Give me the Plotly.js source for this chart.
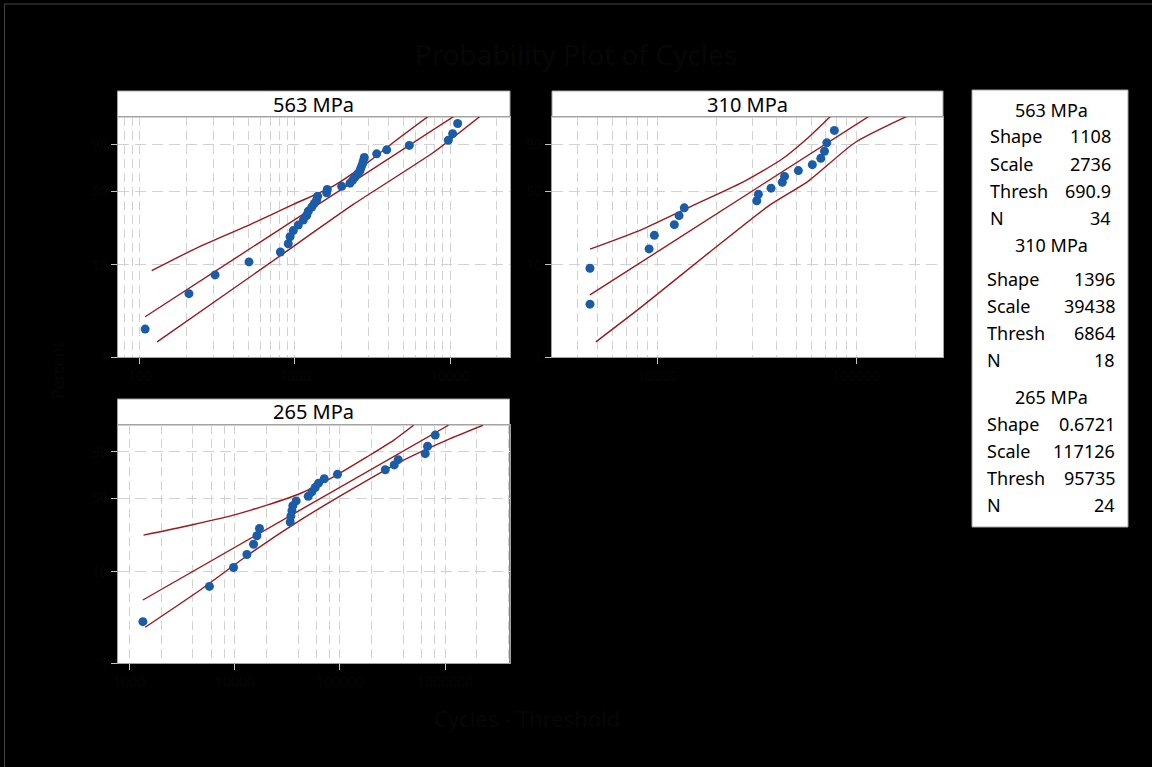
<!DOCTYPE html>
<html><head><meta charset="utf-8">
<script src="https://cdn.plot.ly/plotly-3.0.1.min.js"></script>
<style>html,body{margin:0;padding:0;background:#000;} #chart{width:1152px;height:767px;}</style>
</head><body><div id="chart"></div>
<script>
// ---------- data (x = time - threshold, y = percent) ----------
const groups = ['563 MPa', '310 MPa', '265 MPa'];

const p1_x = [108, 207, 305, 505, 805, 905, 929, 975, 1050, 1132, 1189, 1218, 1282, 1333, 1380, 1400, 1600, 1615, 2000, 2265, 2355, 2438, 2537, 2625, 2667, 2718, 2760, 2800, 3365, 3905, 5460, 9750, 10400, 11200];
const p1_pct = [2.03, 4.94, 7.85, 10.76, 13.66, 16.57, 19.48, 22.38, 25.29, 28.20, 31.10, 34.01, 36.92, 39.83, 42.73, 45.64, 48.55, 51.45, 54.36, 57.27, 60.17, 63.08, 65.99, 68.90, 71.80, 74.71, 77.62, 80.52, 83.43, 86.34, 89.24, 92.15, 95.06, 97.97];

const p2_x = [4600, 4600, 9120, 9690, 12210, 12900, 13700, 31700, 32300, 37400, 42600, 43700, 51300, 60300, 66500, 69400, 71300, 77800];
const p2_pct = [3.80, 9.24, 14.67, 20.11, 25.54, 30.98, 36.41, 41.85, 47.28, 52.72, 58.15, 63.59, 69.02, 74.46, 79.89, 85.33, 90.76, 96.20];

const p3_x = [1341, 5750, 9750, 13060, 15100, 16260, 17200, 33700, 34200, 35000, 35700, 38400, 50000, 54200, 58300, 62600, 71000, 94800, 270000, 328000, 358000, 647000, 681000, 805000];
const p3_pct = [2.87, 6.97, 11.07, 15.16, 19.26, 23.36, 27.46, 31.56, 35.66, 39.75, 43.85, 47.95, 52.05, 56.15, 60.25, 64.34, 68.44, 72.54, 76.64, 80.74, 84.84, 88.93, 93.03, 97.13];

// fitted line and 95% confidence bounds
const p1_up_x = [119, 244, 513, 975, 1766, 2760, 4305, 7244];
const p1_up_pct = [8.7, 15.6, 25.6, 39.0, 54.6, 73.3, 90.96, 99.08];
const p1_fit_x = [108, 10760];
const p1_fit_pct = [2.77, 99.15];
const p1_lo_x = [129, 690, 2377, 7800, 15630];
const p1_lo_pct = [1.47, 10.5, 39.0, 84.4, 99.08];

const p2_up_x = [4600, 8380, 14920, 26660, 42350, 57600, 75500];
const p2_up_pct = [14.6, 22.9, 37.7, 57.7, 79.1, 93.5, 99.2];
const p2_fit_x = [4600, 117500];
const p2_fit_pct = [4.78, 99.15];
const p2_lo_x = [4930, 8380, 18120, 36230, 57600, 98900, 183200];
const p2_lo_pct = [1.47, 3.57, 13.3, 37.7, 59.2, 90.96, 99.15];

const p3_up_x = [1358, 3260, 9750, 20230, 41980, 86900, 180600, 323600, 501000];
const p3_up_pct = [23.7, 28.5, 36.4, 44.3, 54.6, 70.2, 86.8, 95.5, 98.97];
const p3_fit_x = [1340, 1076000];
const p3_fit_pct = [4.96, 98.97];
const p3_lo_x = [1409, 4700, 14030, 41980, 125300, 374000, 1119000, 2286000];
const p3_lo_pct = [2.49, 6.37, 15.5, 32.8, 57.7, 83.2, 96.1, 98.97];

// tick labels
const yTickPct = [1, 10, 50, 90];
const yTickText = ['1', '10', '50', '90'];
const x1Ticks = [100, 1000, 10000];
const x2Ticks = [10000, 100000];
const x3Ticks = [1000, 10000, 100000, 1000000];
const x1Grid = [80, 90, 200, 300, 400, 500, 600, 700, 800, 900, 2000, 3000, 4000, 5000, 6000, 7000, 8000, 9000, 20000];
const x2Grid = [4000, 5000, 6000, 7000, 8000, 9000, 20000, 30000, 40000, 50000, 60000, 70000, 80000, 90000, 200000];
const x3Grid = [2000, 4000, 6000, 8000, 20000, 40000, 60000, 80000, 200000, 400000, 600000, 800000, 2000000, 4000000];

// summary table
const statNames = ['Shape', 'Scale', 'Thresh', 'N'];
const statVals = [
  ['1108', '2736', '690.9', '34'],
  ['1396', '39438', '6864', '18'],
  ['0.6721', '117126', '95735', '24']
];

const titleText = 'Probability Plot of Cycles';
const xTitle = 'Cycles - Threshold';
const yTitle = 'Percent';

// ---------- helpers ----------
const W = p => Math.log(-Math.log(1 - p / 100));   // Weibull probability scale
const WW = arr => arr.map(W);
const fx = px => px / 1152;
const fy = py => 1 - py / 767;

const FONT = 'Noto Sans, Open Sans, sans-serif';
const FAINT = '#070707';
const BLUE = '#1a5ca8';
const RED = '#951b1e';
const GRID = '#d2d2d2';
const FRAME = '#a3a3a3';

function pts(x, p, xa, ya) {
  return {x: x, y: WW(p), xaxis: xa, yaxis: ya, type: 'scatter', mode: 'markers',
          marker: {color: BLUE, size: 9}, hoverinfo: 'skip', showlegend: false, cliponaxis: true};
}
function line(x, p, xa, ya) {
  return {x: x, y: WW(p), xaxis: xa, yaxis: ya, type: 'scatter', mode: 'lines',
          line: {color: RED, width: 1.4, shape: 'spline', smoothing: 0.6}, hoverinfo: 'skip', showlegend: false};
}

const traces = [
  line(p1_up_x, p1_up_pct, 'x', 'y'), line(p1_fit_x, p1_fit_pct, 'x', 'y'), line(p1_lo_x, p1_lo_pct, 'x', 'y'),
  pts(p1_x, p1_pct, 'x', 'y'),
  line(p2_up_x, p2_up_pct, 'x2', 'y2'), line(p2_fit_x, p2_fit_pct, 'x2', 'y2'), line(p2_lo_x, p2_lo_pct, 'x2', 'y2'),
  pts(p2_x, p2_pct, 'x2', 'y2'),
  line(p3_up_x, p3_up_pct, 'x3', 'y3'), line(p3_fit_x, p3_fit_pct, 'x3', 'y3'), line(p3_lo_x, p3_lo_pct, 'x3', 'y3'),
  pts(p3_x, p3_pct, 'x3', 'y3')
];

function xAxis(dom, rng, ticks, grid, anchor) {
  return {
    type: 'log', domain: dom, range: rng, anchor: anchor,
    tickmode: 'array', tickvals: ticks, ticktext: ticks.map(String),
    ticks: 'outside', ticklen: 6, tickcolor: '#c4c4c4', tickwidth: 1,
    tickfont: {family: FONT, size: 14, color: FAINT},
    showgrid: true, gridcolor: GRID, griddash: '9px,5px', gridwidth: 1,
    minor: {tickmode: 'array', tickvals: grid, showgrid: true, gridcolor: GRID, griddash: '9px,5px', gridwidth: 1, ticks: ''},
    showline: true, mirror: true, linecolor: FRAME, linewidth: 1, zeroline: false, fixedrange: true
  };
}
function yAxis(dom, anchor) {
  return {
    domain: dom, range: [W(1), W(99)], anchor: anchor,
    tickmode: 'array', tickvals: WW(yTickPct), ticktext: yTickText,
    ticks: 'outside', ticklen: 6, tickcolor: '#c4c4c4', tickwidth: 1,
    tickfont: {family: FONT, size: 14, color: FAINT},
    showgrid: true, gridcolor: GRID, griddash: '11px,6px', gridwidth: 1,
    showline: true, mirror: true, linecolor: FRAME, linewidth: 1, zeroline: false, fixedrange: true
  };
}

const P = [
  {x: [117.5, 510], y: [117, 357]},
  {x: [552, 943], y: [117, 357]},
  {x: [117.5, 509.5], y: [425, 663]}
];
const dx = d => [fx(d.x[0]), fx(d.x[1])];
const dy = d => [fy(d.y[1]), fy(d.y[0])];

const shapes = [];
const annotations = [];
const axN = ['', '2', '3'];
P.forEach((d, i) => {
  const h = d.y[1] - d.y[0];
  const stripH = 26;
  shapes.push({type: 'rect', xref: 'x' + axN[i] + ' domain', yref: 'y' + axN[i] + ' domain',
    x0: 0, x1: 1, y0: 1, y1: 1 + stripH / h, fillcolor: '#ffffff', line: {color: FRAME, width: 1}, layer: 'below'});
  annotations.push({xref: 'x' + axN[i] + ' domain', yref: 'y' + axN[i] + ' domain', x: 0.5, y: 1 + stripH / 2 / h,
    text: groups[i], showarrow: false, xanchor: 'center', yanchor: 'middle',
    font: {family: FONT, size: 20, color: '#000'}});
});

// thin page frame at top and left edges
shapes.push({type: 'line', xref: 'paper', yref: 'paper', x0: fx(4), x1: 1, y0: fy(4), y1: fy(4),
  line: {color: '#444444', width: 1}});
shapes.push({type: 'line', xref: 'paper', yref: 'paper', x0: fx(4.5), x1: fx(4.5), y0: fy(4), y1: 0,
  line: {color: '#444444', width: 1}});

// table box
shapes.push({type: 'rect', xref: 'paper', yref: 'paper', x0: fx(972), x1: fx(1128), y0: fy(527), y1: fy(90),
  fillcolor: '#ffffff', line: {color: FRAME, width: 1}});
const headY = [110, 245, 397];
const rowY = [[136.5, 164, 191, 218], [279, 306, 333, 360], [424, 451, 478, 505]];
const labX = [988, 985, 985];
const valX = [1113, 1117, 1117];
groups.forEach((g, i) => {
  annotations.push({xref: 'paper', yref: 'paper', x: fx(1051), y: fy(headY[i]), text: g, showarrow: false,
    xanchor: 'center', yanchor: 'middle', font: {family: FONT, size: 18, color: '#000'}});
  statNames.forEach((s, j) => {
    annotations.push({xref: 'paper', yref: 'paper', x: fx(labX[i]), y: fy(rowY[i][j]), text: s, showarrow: false,
      xanchor: 'left', yanchor: 'middle', font: {family: FONT, size: 18, color: '#000'}});
    annotations.push({xref: 'paper', yref: 'paper', x: fx(valX[i]), y: fy(rowY[i][j]), text: statVals[i][j], showarrow: false,
      xanchor: 'right', yanchor: 'middle', font: {family: FONT, size: 18, color: '#000'}});
  });
});

// faint axis titles
annotations.push({xref: 'paper', yref: 'paper', x: fx(527), y: fy(718), text: xTitle, showarrow: false,
  xanchor: 'center', yanchor: 'middle', font: {family: FONT, size: 22, color: FAINT}});
annotations.push({xref: 'paper', yref: 'paper', x: fx(58), y: fy(370), text: yTitle, showarrow: false, textangle: -90,
  xanchor: 'center', yanchor: 'middle', font: {family: FONT, size: 16, color: FAINT}});

const layout = {
  width: 1152, height: 767,
  paper_bgcolor: '#000000', plot_bgcolor: '#ffffff',
  margin: {l: 0, r: 0, t: 0, b: 0},
  showlegend: false,
  title: {text: titleText, x: 0.5, xanchor: 'center', y: fy(55), yanchor: 'middle', yref: 'paper',
          font: {family: FONT, size: 28, color: FAINT}},
  xaxis: xAxis(dx(P[0]), [1.855, 4.387], x1Ticks, x1Grid, 'y'),
  yaxis: yAxis(dy(P[0]), 'x'),
  xaxis2: xAxis(dx(P[1]), [3.472, 5.437], x2Ticks, x2Grid, 'y2'),
  yaxis2: yAxis(dy(P[1]), 'x2'),
  xaxis3: xAxis(dx(P[2]), [2.886, 6.612], x3Ticks, x3Grid, 'y3'),
  yaxis3: yAxis(dy(P[2]), 'x3'),
  shapes: shapes,
  annotations: annotations
};

Plotly.newPlot('chart', traces, layout, {staticPlot: true, displayModeBar: false});
</script></body></html>
